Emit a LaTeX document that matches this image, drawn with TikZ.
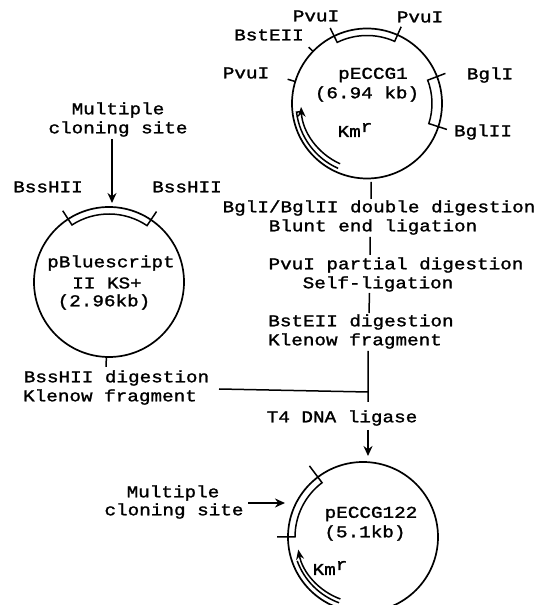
\documentclass[tikz,border=0pt]{standalone}
\usepackage{fontspec}
\setmainfont{Liberation Mono}[FakeStretch=1.17,FakeBold=1.5]
\usetikzlibrary{arrows.meta}
\newcommand{\kmr}{Km\raisebox{5pt}{r}}
\tikzset{
 lab/.style={inner sep=0pt,font=\fontsize{16.5}{18}\selectfont},
 ring/.style={line width=1.7pt},
 feat/.style={line width=1.5pt},
 flow/.style={line width=1.5pt},
 bigtip/.style={-{Stealth[length=10pt,width=9pt]},line width=1.9pt},
 kmtip/.style={line width=1.5pt,-{Stealth[length=10pt,width=8pt]}},
}
\begin{document}
\begin{tikzpicture}[x=1pt,y=1pt]
 \useasboundingbox (0,0) rectangle (547,605);
 \clip (0,0) rectangle (547,605);
 % pECCG1
 \begin{scope}[shift={(367,501.5)}]
 \draw[ring] (0,0) circle (75);
 \draw[feat] (116:84) -- (116:68) arc(116:66:68) -- (66:84);
 \draw[feat] (21:84) -- (21:65) arc(21:-18:65) -- (-18:84);
 \draw[feat] (136:75) -- (136:81);
 \draw[feat] (163:75) -- (163:83);
 \draw[feat] (246:71) arc(246:187:71) -- (187:66);
 \draw[kmtip] (246:66) arc(246:183:66);
 \end{scope}
 % pBluescript
 \begin{scope}[shift={(109,323)}]
 \draw[ring] (0,0) circle (75);
 \draw[feat] (123:85) -- (123:68) arc(123:56:68) -- (56:85);
 \draw[feat] (268:75) -- (268:85);
 \end{scope}
 % pECCG122
 \begin{scope}[shift={(363,68)}]
 \draw[ring] (0,0) circle (75);
 \draw[feat] (127:89) -- (127:68) arc(127:180:68) -- (180:86);
 \draw[feat] (250:70) arc(250:200:70);
 \draw[kmtip] (250:66) arc(250:191:66);
 \end{scope}
 % labels
 \node[lab] (pvuA) at (316,589) {PvuI};
 \node[lab] (pvuB) at (420,588) {PvuI};
 \node[lab] (bst) at (269,570) {BstEII};
 \node[lab] (pvuC) at (246,532) {PvuI};
 \node[lab] (bglA) at (490,530) {BglI};
 \node[lab] (bglB) at (483,473) {BglII};
 \node[lab] (eccA) at (373,530) {pECCG1};
 \node[lab] (eccB) at (367,511) {(6.94 kb)};
 \node[lab] (kmA) at (355,475) {\kmr};
 \node[lab] (mcsA) at (118,495) {Multiple};
 \node[lab] (mcsB) at (118,476) {cloning site};
 \node[lab] (bssA) at (48,418) {BssHII};
 \node[lab] (bssB) at (187,418) {BssHII};
 \node[lab] (bluA) at (111,342) {pBluescript};
 \node[lab] (bluB) at (107,322) {II KS+};
 \node[lab] (bluC) at (104,303) {(2.96kb)};
 \node[lab] (dbl) at (379,397) {BglI/BglII double digestion};
 \node[lab] (blunt) at (373,378) {Blunt end ligation};
 \node[lab] (part) at (396,340) {PvuI partial digestion};
 \node[lab] (self) at (378,321) {Self-ligation};
 \node[lab] (bstd) at (361,283) {BstEII digestion};
 \node[lab] (klA) at (355,264) {Klenow fragment};
 \node[lab] (bssd) at (116.5,227) {BssHII digestion};
 \node[lab] (klB) at (110,208) {Klenow fragment};
 \node[lab] (t4) at (342,187) {T4 DNA ligase};
 \node[lab] (mcsC) at (173,112) {Multiple};
 \node[lab] (mcsD) at (174,94) {cloning site};
 \node[lab] (eccC) at (371,91) {pECCG122};
 \node[lab] (eccD) at (365,72) {(5.1kb)};
 \node[lab] (kmB) at (330,37) {\kmr};
 % steps
 \coordinate (top) at (371,423);
 \coordinate (join) at (368,213);
 \coordinate (tail) at (219,216);
 \draw[flow] (top) -- (371,406) (370,368) -- (370,350) (369.5,312) -- (369,292) (368,254) -- (368,203);
 \draw[flow] (tail) -- (join);
 \draw[bigtip] (112,466) -- (112,402);
 \draw[bigtip] (368,175) -- (368,149);
 \draw[bigtip] (248,102) -- (285,102);
\end{tikzpicture}
\end{document}
